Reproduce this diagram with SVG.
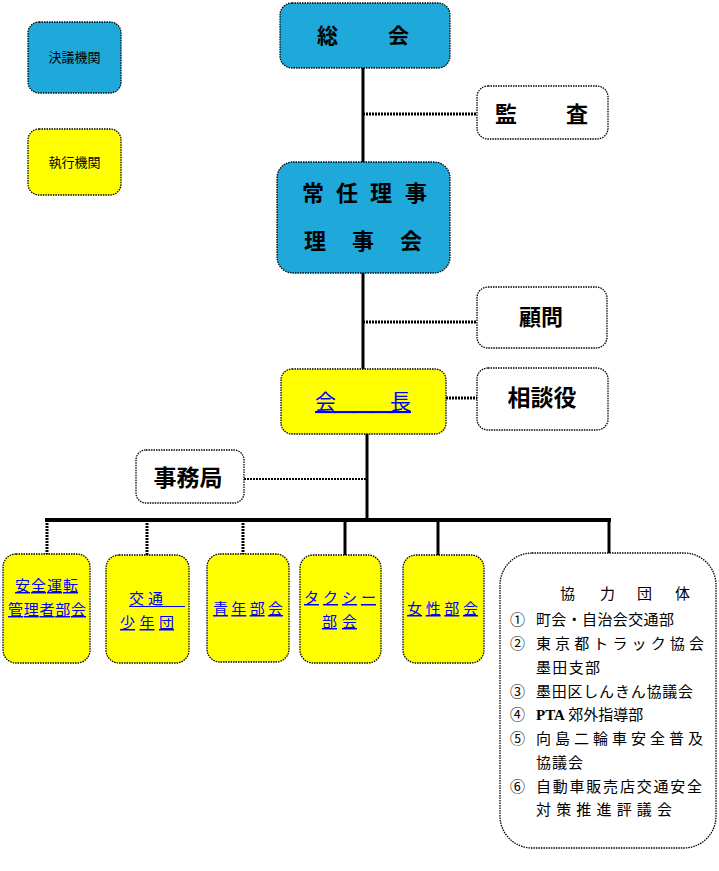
<svg xmlns="http://www.w3.org/2000/svg" width="719" height="871" viewBox="0 0 719 871">
<style>
.box{stroke:#000;stroke-width:1.3;stroke-dasharray:1.5 1}
.blue{fill:#1fa8da}
.yel{fill:#ffff00}
.wh{fill:#fff}
.hd{font-family:"Noto Sans CJK JP","Noto Sans",sans-serif;font-weight:bold;fill:#000}
.lnk{font-family:"Noto Sans CJK JP","Noto Sans",sans-serif;fill:#0000ff;text-decoration:underline}
.sm{font-family:"Noto Sans CJK JP","Noto Sans",sans-serif;fill:#000;font-size:13px}
.li{font-family:"Noto Sans CJK JP","Noto Sans",sans-serif;fill:#000;font-size:15px}
.c{stroke:#000;stroke-width:3;fill:none}
.d{stroke:#000;stroke-width:3;stroke-dasharray:2 1;fill:none}
</style>
<rect width="719" height="871" fill="#fff"/>
<g id="connectors">
<line class="c" x1="363" y1="68" x2="363" y2="163"/>
<line class="c" x1="363" y1="273" x2="363" y2="370"/>
<line class="d" x1="363" y1="114" x2="477" y2="114"/>
<line class="d" x1="363" y1="322" x2="477" y2="322"/>
<line class="d" x1="446" y1="398" x2="477" y2="398"/>
<line class="c" x1="367" y1="434" x2="367" y2="521"/>
<line stroke="#000" stroke-width="2" stroke-dasharray="2 1" x1="244" y1="479" x2="367" y2="479"/>
<line stroke="#000" stroke-width="4" x1="45" y1="520" x2="611" y2="520"/>
<line class="d" x1="47" y1="520" x2="47" y2="554"/>
<line class="d" x1="147" y1="520" x2="147" y2="555"/>
<line class="d" x1="243" y1="520" x2="243" y2="554"/>
<line class="c" x1="345" y1="520" x2="345" y2="555"/>
<line class="c" x1="438" y1="520" x2="438" y2="555"/>
<line class="c" x1="609" y1="520" x2="609" y2="553"/>
</g>
<g id="legend-decision">
<rect class="box blue" x="28" y="22" width="93" height="71" rx="11"/>
<text class="sm" x="74.5" y="62" text-anchor="middle">決議機関</text>
</g>
<g id="legend-exec">
<rect class="box yel" x="28" y="129" width="93" height="66" rx="11"/>
<text class="sm" x="74.5" y="167" text-anchor="middle">執行機関</text>
</g>
<g id="soukai">
<rect class="box blue" x="280" y="3" width="170" height="65" rx="12"/>
<text class="hd" font-size="21" x="317 388" y="43">総会</text>
</g>
<g id="kansa">
<rect class="box wh" x="477" y="86" width="131" height="53" rx="11"/>
<text class="hd" font-size="22" x="495 566" y="122">監査</text>
</g>
<g id="rijikai">
<rect class="box blue" x="277" y="162" width="173" height="111" rx="16"/>
<text class="hd" font-size="22" x="302 336 370 405" y="201">常任理事</text>
<text class="hd" font-size="22" x="304 352 400" y="249">理事会</text>
</g>
<g id="komon">
<rect class="box wh" x="477" y="287" width="130" height="61" rx="11"/>
<text class="hd" font-size="22" x="541" y="325" text-anchor="middle">顧問</text>
</g>
<g id="kaicho">
<rect class="box yel" x="281" y="369" width="165" height="65" rx="11"/>
<text class="lnk" font-size="21" x="315" y="409" textLength="96" lengthAdjust="spacing">会　　　長</text>
</g>
<g id="soudanyaku">
<rect class="box wh" x="477" y="368" width="131" height="62" rx="11"/>
<text class="hd" font-size="23" x="542" y="406" text-anchor="middle">相談役</text>
</g>
<g id="jimukyoku">
<rect class="box wh" x="136" y="450" width="108" height="53" rx="10"/>
<text class="hd" font-size="23" x="188" y="486" text-anchor="middle">事務局</text>
</g>
<g id="anzen">
<rect class="box yel" x="3" y="554" width="87" height="109" rx="13"/>
<text class="lnk" font-size="15" x="15" y="591" textLength="63" lengthAdjust="spacing">安全運転</text>
<text class="lnk" font-size="15" x="8" y="615" textLength="78" lengthAdjust="spacing">管理者部会</text>
</g>
<g id="kotsu">
<rect class="box yel" x="106" y="555" width="83" height="108" rx="13"/>
<text class="lnk" font-size="15" x="129" y="604" textLength="34" lengthAdjust="spacing" style="text-decoration:none">交通</text>
<line x1="129" y1="606.5" x2="185" y2="606.5" stroke="#0000ff" stroke-width="1"/>
<text class="lnk" font-size="15" x="120" y="628" textLength="54" lengthAdjust="spacing">少年団</text>
</g>
<g id="seinen">
<rect class="box yel" x="207" y="554" width="82" height="108" rx="13"/>
<text class="lnk" font-size="15" x="213" y="614" textLength="70" lengthAdjust="spacing">青年部会</text>
</g>
<g id="taxi">
<rect class="box yel" x="300" y="555" width="81" height="108" rx="13"/>
<text class="lnk" font-size="15" x="304" y="603" textLength="72" lengthAdjust="spacing">タクシー</text>
<text class="lnk" font-size="15" x="322" y="627" textLength="35" lengthAdjust="spacing">部会</text>
</g>
<g id="josei">
<rect class="box yel" x="403" y="555" width="81" height="108" rx="13"/>
<text class="lnk" font-size="15" x="407" y="614" textLength="71" lengthAdjust="spacing">女性部会</text>
</g>
<g id="kyoryoku">
<rect class="box wh" x="500" y="553" width="216" height="295" rx="32"/>
<text class="li" x="560 600 637 675" y="599">協力団体</text>
<text class="li" x="510" y="625" font-size="16">①</text>
<text class="li" x="536" y="625" textLength="138" lengthAdjust="spacing">町会・自治会交通部</text>
<text class="li" x="510" y="649" font-size="16">②</text>
<text class="li" x="536" y="649" textLength="168" lengthAdjust="spacing">東京都トラック協会</text>
<text class="li" x="536" y="673" textLength="64" lengthAdjust="spacing">墨田支部</text>
<text class="li" x="510" y="697" font-size="16">③</text>
<text class="li" x="536" y="697" textLength="157" lengthAdjust="spacing">墨田区しんきん協議会</text>
<text class="li" x="510" y="720" font-size="16">④</text>
<text class="li" x="536" y="720"><tspan font-family="Liberation Serif,serif" font-weight="bold">PTA</tspan> 郊外指導部</text>
<text class="li" x="510" y="744" font-size="16">⑤</text>
<text class="li" x="536" y="744" textLength="167" lengthAdjust="spacing">向島二輪車安全普及</text>
<text class="li" x="536" y="768" textLength="47" lengthAdjust="spacing">協議会</text>
<text class="li" x="510" y="792" font-size="16">⑥</text>
<text class="li" x="536" y="792" textLength="166" lengthAdjust="spacing">自動車販売店交通安全</text>
<text class="li" x="536" y="815" textLength="136" lengthAdjust="spacing">対策推進評議会</text>
</g>
</svg>
